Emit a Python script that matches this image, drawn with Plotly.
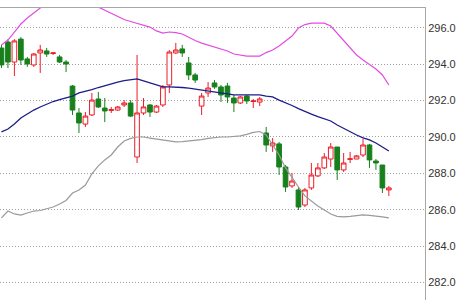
import plotly.graph_objects as go

# ---- data ----
idx = list(range(61))

opens = [294.89, 295.22, 294.12, 295.38, 294.29, 293.96, 294.62, 294.73, 294.59, 294.40,
         294.12, 292.80, 291.32, 290.71, 291.21, 292.09, 291.59, 291.46, 291.48, 291.76,
         291.87, 288.90, 291.32, 291.76, 291.37, 291.76, 292.86, 294.62, 294.84, 294.07,
         293.41, 291.70, 292.42, 292.97, 292.75, 292.80, 292.14, 291.87, 292.25, 291.95,
         291.92, 290.22, 289.51, 289.62, 288.35, 287.31, 287.09, 286.26, 287.20, 287.86,
         288.30, 288.79, 289.45, 288.19, 288.77, 288.79, 289.01, 289.56, 288.68, 288.46,
         287.09]
highs = [295.06, 295.38, 295.38, 295.49, 294.40, 294.62, 295.06, 294.89, 294.67, 294.51,
         294.23, 292.86, 291.59, 291.37, 292.42, 292.47, 292.14, 291.65, 291.70, 292.03,
         292.03, 294.51, 292.14, 291.81, 291.76, 292.86, 294.78, 295.17, 295.06, 294.40,
         293.52, 292.42, 293.02, 293.13, 292.86, 292.97, 292.31, 292.25, 292.31, 292.09,
         292.20, 290.55, 289.94, 289.73, 288.46, 288.02, 287.25, 287.20, 288.57, 288.57,
         289.12, 289.67, 289.45, 289.12, 289.18, 289.01, 289.89, 289.62, 288.79, 288.46,
         287.31]
lows = [293.79, 293.79, 293.35, 293.96, 293.85, 293.85, 293.52, 294.40, 294.51, 294.07,
        293.57, 291.21, 290.22, 290.55, 291.15, 291.59, 290.82, 291.32, 291.43, 291.65,
        291.10, 288.57, 291.21, 291.10, 291.32, 291.65, 292.42, 294.56, 294.40, 293.13,
        292.97, 291.21, 292.20, 292.64, 291.92, 291.87, 291.37, 291.81, 291.81, 291.59,
        291.70, 289.18, 289.18, 287.91, 286.98, 287.20, 285.99, 286.15, 287.09, 287.80,
        288.24, 288.35, 287.64, 288.08, 288.57, 288.79, 288.90, 288.30, 288.19, 286.92,
        286.76]
closes = [293.96, 294.12, 295.28, 294.23, 294.01, 294.56, 294.78, 294.56, 294.62, 294.12,
          294.01, 291.48, 290.77, 291.15, 292.03, 291.65, 291.43, 291.50, 291.65, 291.87,
          291.15, 291.32, 291.65, 291.37, 291.70, 292.75, 294.67, 294.78, 294.62, 293.41,
          293.13, 292.25, 292.69, 292.75, 292.31, 292.20, 291.87, 292.20, 291.98, 291.98,
          292.09, 289.56, 289.67, 288.35, 287.25, 287.58, 286.15, 287.09, 287.91, 288.30,
          288.90, 289.45, 288.19, 288.57, 288.80, 288.96, 289.56, 288.74, 288.57, 287.20,
          287.20]

upper_band = [295.06, 295.33, 295.77, 296.21, 296.54, 296.84, 297.09, 297.30, 297.50, 297.65,
              297.70, 297.75, 297.65, 297.50, 297.30, 297.14, 296.98, 296.81, 296.65, 296.46,
              296.35, 296.26, 296.15, 296.04, 295.83, 295.71, 295.77, 295.74, 295.66, 295.47,
              295.30, 295.16, 295.06, 294.95, 294.86, 294.73, 294.56, 294.51, 294.45, 294.45,
              294.45, 294.64, 294.78, 295.00, 295.28, 295.55, 295.99, 296.18, 296.26, 296.26,
              296.26, 296.10, 295.71, 295.33, 294.89, 294.51, 294.23, 293.96, 293.74, 293.41,
              292.86]
middle_band = [290.28, 290.44, 290.71, 291.04, 291.26, 291.48, 291.65, 291.81, 291.95, 292.06,
               292.14, 292.25, 292.42, 292.50, 292.61, 292.72, 292.83, 292.94, 293.02, 293.10,
               293.16, 293.19, 293.08, 292.97, 292.83, 292.75, 292.75, 292.75, 292.72, 292.69,
               292.64, 292.58, 292.53, 292.45, 292.42, 292.36, 292.31, 292.31, 292.31, 292.31,
               292.31, 292.25, 292.20, 292.03, 291.90, 291.73, 291.56, 291.43, 291.26, 291.12,
               290.99, 290.88, 290.66, 290.47, 290.28, 290.11, 289.95, 289.84, 289.67, 289.45,
               289.23]
lower_band = [285.55, 285.93, 285.77, 285.71, 285.82, 285.93, 285.96, 286.04, 286.15, 286.32,
              286.51, 286.92, 287.09, 287.36, 287.97, 288.41, 288.74, 289.01, 289.45, 289.78,
              289.92, 290.00, 290.00, 289.94, 289.89, 289.84, 289.78, 289.73, 289.75, 289.78,
              289.81, 289.86, 289.92, 289.97, 290.00, 290.00, 290.03, 290.06, 290.14, 290.25,
              290.30, 290.11, 289.56, 289.01, 288.30, 287.75, 287.25, 286.76, 286.48, 286.21,
              285.99, 285.77, 285.64, 285.61, 285.64, 285.66, 285.72, 285.69, 285.66, 285.61,
              285.55]

y_ticks = [282.0, 284.0, 286.0, 288.0, 290.0, 292.0, 294.0, 296.0]
y_tick_text = ["282.0", "284.0", "286.0", "288.0", "290.0", "292.0", "294.0", "296.0"]

# ---- figure ----
fig = go.Figure()
fig.add_trace(go.Scatter(x=idx, y=upper_band, mode="lines",
                         line=dict(color="#e34ce3", width=1.2), hoverinfo="skip"))
fig.add_trace(go.Scatter(x=idx, y=middle_band, mode="lines",
                         line=dict(color="#1c1c8a", width=1.3), hoverinfo="skip"))
fig.add_trace(go.Scatter(x=idx, y=lower_band, mode="lines",
                         line=dict(color="#9a9a9a", width=1.2), hoverinfo="skip"))
fig.add_trace(go.Candlestick(
    x=idx, open=opens, high=highs, low=lows, close=closes,
    increasing=dict(line=dict(color="#ee1c28", width=1), fillcolor="#ffffff"),
    decreasing=dict(line=dict(color="#17801c", width=1), fillcolor="#17801c"),
    whiskerwidth=0,
))

fig.update_layout(
    width=461, height=300,
    margin=dict(l=0, r=36, t=8, b=0),
    paper_bgcolor="#ffffff", plot_bgcolor="#ffffff",
    showlegend=False,
    boxgap=0.15, boxgroupgap=0.15,
    font=dict(family="Liberation Sans, Arial, sans-serif", size=11, color="#333333"),
)
fig.update_xaxes(
    range=[-0.23, 65.6], rangeslider=dict(visible=False),
    showgrid=False, zeroline=False, showticklabels=False, ticks="",
    showline=True, linecolor="#a8a8a8", linewidth=1, side="top",
)
fig.update_yaxes(
    range=[281.04, 297.09], side="right",
    tickmode="array", tickvals=y_ticks, ticktext=y_tick_text,
    showgrid=True, gridcolor="#a0a0a0", gridwidth=1, griddash="1px,2px",
    zeroline=False, showline=True, linecolor="#a8a8a8", linewidth=1,
    ticks="", tickfont=dict(size=11, color="#333333"),
)

fig.write_html("out.html")
